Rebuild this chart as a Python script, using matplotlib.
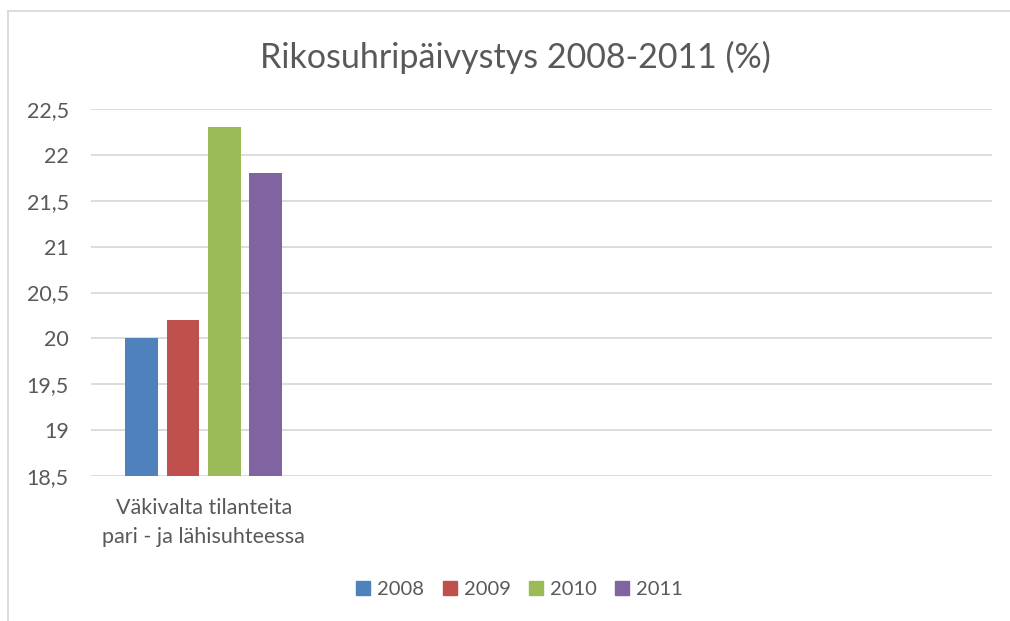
import matplotlib
matplotlib.use("Agg")
import matplotlib.pyplot as plt
from matplotlib.lines import Line2D
import numpy as np

plt.rcParams['font.family'] = ['Lato', 'DejaVu Sans']

categories = ["Väkivalta tilanteita\npari - ja lähisuhteessa", "", "", ""]
years = ["2008", "2009", "2010", "2011"]
values = {
    "2008": [20.0],
    "2009": [20.2],
    "2010": [22.3],
    "2011": [21.8],
}
colors = ["#4f81bd", "#c0504d", "#9bbb59", "#8064a2"]
yticks = [18.5, 19, 19.5, 20, 20.5, 21, 21.5, 22, 22.5]
ytick_labels = ["18,5", "19", "19,5", "20", "20,5", "21", "21,5", "22", "22,5"]

W, H = 1010, 621
fig = plt.figure(figsize=(W / 100, H / 100), dpi=100)
ax = fig.add_axes([91 / W, 1 - 476 / H, (992 - 91) / W, (476 - 109) / H])

pitch = 0.183
width = 0.146
for i, (yr, col) in enumerate(zip(years, colors)):
    v = values[yr]
    x = np.arange(len(v)) + (i - 1.5) * pitch
    ax.bar(x, np.array(v) - 18.5, bottom=18.5, width=width, color=col, zorder=3)

ax.set_xlim(-0.5, len(categories) - 0.5)
ax.set_ylim(18.5, 22.5)
ax.set_yticks(yticks)
ax.set_yticklabels(ytick_labels)
ax.set_xticks(range(len(categories)))
ax.set_xticklabels(categories, linespacing=1.55)
ax.tick_params(axis='both', length=0, labelsize=15.5, colors="#595959")
ax.tick_params(axis='y', pad=16)
ax.tick_params(axis='x', pad=16)
ax.grid(axis='y', color="#d9d9d9", linewidth=1.3, zorder=0)
for s in ax.spines.values():
    s.set_visible(False)

fig.text(515 / W, 1 - 57 / H, "Rikosuhripäivystys 2008-2011 (%)", ha='center', va='center',
         fontsize=24.5, color="#595959")

handles = [Line2D([0], [0], marker='s', linestyle='', markersize=10, markerfacecolor=c,
                  markeredgecolor=c) for c in colors]
fig.legend(handles, years, loc='center', bbox_to_anchor=(519 / W, 1 - 589 / H), ncol=4,
           frameon=False, fontsize=14.5, labelcolor="#595959", handlelength=0.8,
           handletextpad=0.3, columnspacing=0.85)

# outer chart border
fig.add_artist(Line2D([8 / W, 8 / W], [0, 1 - 11 / H], color="#d9d9d9", linewidth=1.3,
                      transform=fig.transFigure))
fig.add_artist(Line2D([8 / W, 1], [1 - 11 / H, 1 - 11 / H], color="#d9d9d9", linewidth=1.3,
                      transform=fig.transFigure))

fig.savefig("out.png", dpi=100)
